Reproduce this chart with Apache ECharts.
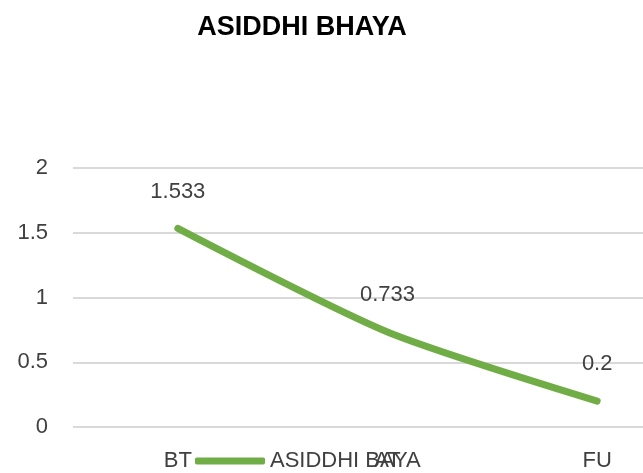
<!DOCTYPE html>
<html>
<head>
<meta charset="utf-8">
<script src="https://cdn.jsdelivr.net/npm/echarts@6/dist/echarts.min.js"></script>
<style>html,body{margin:0;padding:0;background:#fff;}#c{width:643px;height:473px;}</style>
</head>
<body>
<div id="c"></div>
<script>
const categories = ['BT', 'AT', 'FU'];
const seriesName = 'ASIDDHI BAYA';
const values = [1.533, 0.733, 0.2];
const titleText = 'ASIDDHI BHAYA';
const yTicks = { min: 0, max: 2, interval: 0.5 };

const FONT = 'Liberation Sans';
const GREEN = '#70AD47';
const chart = echarts.init(document.getElementById('c'));
chart.setOption({
  animation: false,
  backgroundColor: '#ffffff',
  title: {
    text: titleText,
    left: 297, top: 9, textAlign: 'center',
    textStyle: { fontFamily: FONT, fontSize: 27, fontWeight: 'bold', color: '#000000' }
  },
  legend: {
    left: 190, top: 445,
    itemWidth: 70, itemHeight: 7, itemGap: 4,
    textStyle: { fontFamily: FONT, fontSize: 22, color: '#404040', lineHeight: 22 },
    data: [{ name: seriesName, icon: 'roundRect' }]
  },
  grid: { left: 73, width: 629, top: 168, bottom: 46, containLabel: false, outerBoundsMode: 'none' },
  xAxis: {
    type: 'category', data: categories, boundaryGap: true,
    axisLine: { show: false }, axisTick: { show: false },
    axisLabel: { fontFamily: FONT, fontSize: 22, color: '#404040', margin: 23 }
  },
  yAxis: {
    type: 'value', min: yTicks.min, max: yTicks.max, interval: yTicks.interval,
    axisLine: { show: false }, axisTick: { show: false },
    splitLine: { lineStyle: { color: '#d9d9d9', width: 2 } },
    axisLabel: { fontFamily: FONT, fontSize: 22, color: '#404040', margin: 25 }
  },
  series: [{
    name: seriesName, type: 'line', data: values,
    smooth: 0.25, symbol: 'circle', symbolSize: 2, showSymbol: true,
    lineStyle: { color: GREEN, width: 7, cap: 'round' },
    itemStyle: { color: GREEN },
    label: { show: true, position: 'top', distance: 25, fontFamily: FONT, fontSize: 22, color: '#404040' }
  }]
});
</script>
</body>
</html>
